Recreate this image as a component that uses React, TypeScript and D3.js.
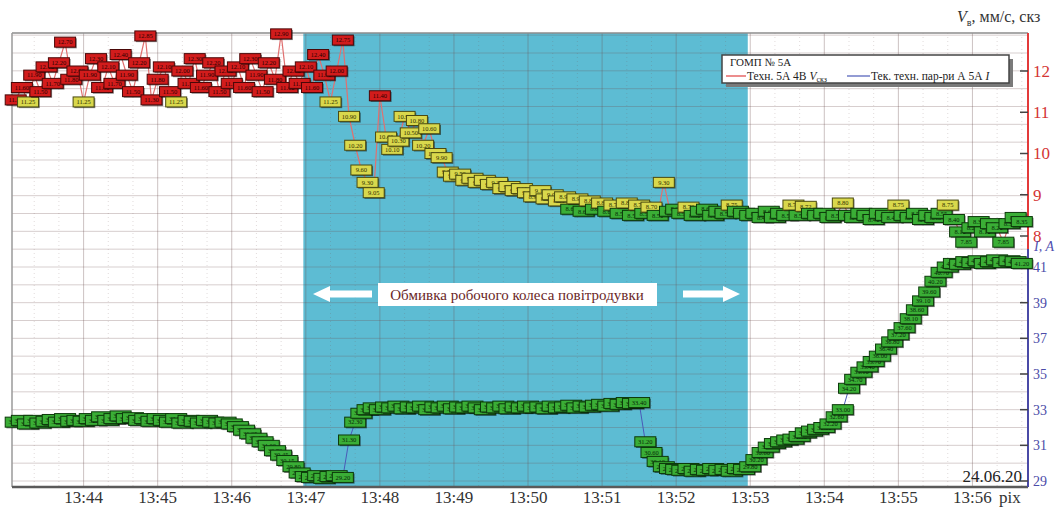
import React, { useEffect, useRef } from "react";
import * as d3 from "d3";

const width = 1055;
const height = 510;

// samples every 5 s starting 13:43:05
const startTime = "13:43:05";
const stepSeconds = 5;

// vibration velocity V, mm/s (rms)
const vibration = [
  11.3, 11.6, 11.25, 11.9, 11.5, 12.1, 11.7, 12.2, 12.7, 11.8, 12.0, // 13:43
  11.25, 11.9, 12.3, 11.6, 12.1, 11.7, 12.4, 11.9, 11.5, 12.2, 12.85, 11.3, // 13:44
  11.8, 12.1, 11.5, 11.25, 12.0, 11.7, 12.3, 11.6, 11.9, 12.2, 11.5, 12.0, // 13:45
  11.7, 12.1, 11.6, 12.3, 11.9, 11.5, 12.2, 11.8, 12.9, 11.6, 12.0, 11.7, // 13:46
  12.1, 11.6, 12.4, 11.9, 11.25, 12.0, 12.75, 10.9, 10.2, 9.6, 9.3, 9.05, // 13:47
  11.4, 10.4, 10.1, 10.3, 10.9, 10.5, 10.8, 10.2, 10.6, 10.0, 9.9, 9.55, // 13:48
  9.45, 9.5, 9.35, 9.4, 9.3, 9.35, 9.25, 9.3, 9.15, 9.2, 9.1, 9.15, // 13:49
  9.05, 8.95, 9.1, 8.9, 9.0, 8.85, 8.95, 8.65, 8.9, 8.6, 8.85, 8.65, // 13:50
  8.8, 8.6, 8.75, 8.55, 8.8, 8.5, 8.75, 8.55, 8.7, 8.5, 9.3, 8.6, // 13:51
  8.65, 8.55, 8.7, 8.5, 8.6, 8.65, 8.5, 8.6, 8.55, 8.75, 8.6, 8.55, // 13:52
  8.5, 8.55, 8.45, 8.6, 8.45, 8.55, 8.5, 8.75, 8.5, 8.72, 8.55, 8.5, // 13:53
  8.55, 8.45, 8.5, 8.8, 8.5, 8.45, 8.55, 8.5, 8.4, 8.55, 8.5, 8.45, // 13:54
  8.75, 8.5, 8.45, 8.55, 8.4, 8.5, 8.45, 8.55, 8.75, 8.4, 8.1, 7.85, // 13:55
  8.2, 8.35, 8.1, 8.3, 8.2, 7.85, 8.3, 8.45, 8.35, // 13:56
];

// motor current I, A
const current = [
  32.3, 32.4, 32.2, 32.4, 32.25, 32.35, 32.45, 32.3, 32.5, 32.35, 32.4, // 13:43
  32.35, 32.5, 32.4, 32.6, 32.4, 32.5, 32.65, 32.5, 32.55, 32.4, 32.5, 32.35, // 13:44
  32.5, 32.4, 32.3, 32.5, 32.25, 32.4, 32.35, 32.25, 32.4, 32.3, 32.25, 32.3, // 13:45
  32.2, 32.05, 31.85, 31.65, 31.4, 31.2, 31.0, 30.7, 30.45, 30.15, 29.8, 29.45, // 13:46
  29.25, 29.2, 29.3, 29.15, 29.25, 29.3, 29.2, 31.3, 32.3, 32.8, 33.0, 33.1, // 13:47
  33.0, 33.15, 33.1, 33.2, 33.05, 33.15, 33.1, 33.2, 33.0, 33.15, 33.1, 33.2, // 13:48
  33.05, 33.15, 33.1, 33.2, 33.1, 33.0, 33.15, 33.1, 33.2, 33.05, 33.15, 33.1, // 13:49
  33.2, 33.1, 33.15, 33.05, 33.2, 33.1, 33.15, 33.25, 33.1, 33.2, 33.15, 33.25, // 13:50
  33.3, 33.2, 33.35, 33.3, 33.4, 33.35, 33.4, 31.2, 30.6, 30.1, 29.8, 29.7, // 13:51
  29.65, 29.6, 29.7, 29.55, 29.65, 29.6, 29.7, 29.6, 29.65, 29.55, 29.7, 29.65, // 13:52
  29.8, 30.2, 30.6, 30.9, 31.1, 31.2, 31.3, 31.35, 31.5, 31.7, 31.8, 31.9, // 13:53
  32.0, 32.2, 32.6, 33.0, 34.2, 34.7, 35.1, 35.4, 35.7, 36.0, 36.4, 36.8, // 13:54
  37.2, 37.6, 38.1, 38.6, 39.1, 39.6, 40.2, 40.7, 41.0, 41.2, 41.15, 41.3, // 13:55
  41.25, 41.35, 41.2, 41.3, 41.4, 41.25, 41.35, 41.3, 41.2, // 13:56
];

const minuteTicks = ["13:44", "13:45", "13:46", "13:47", "13:48", "13:49", "13:50", "13:51", "13:52", "13:53", "13:54", "13:55", "13:56"];
const vibrationTicks = [8, 9, 10, 11, 12];
const currentTicks = [29, 31, 33, 35, 37, 39, 41];
const washStart = "13:46:58";
const washEnd = "13:52:58";

const serif = "'Liberation Serif', 'Times New Roman', serif";

const red = { fill: "#d21c1c", stroke: "#4a0808", text: "#2a0000" };
const yellow = { fill: "#d9d84c", stroke: "#4a4a10", text: "#303000" };
const green = { fill: "#3aae36", stroke: "#0d3a0b", text: "#062a06" };

function vibrationColors(v) {
  if (v >= 11.28) return red;
  if (v >= 8.7) return yellow;
  return green;
}

function App() {
  const chartRef = useRef(null);

  useEffect(() => {
    const root = d3.select(chartRef.current);
    root.selectAll("*").remove();
    const svg = root.append("svg").attr("width", width).attr("height", height).style("display", "block");

    const parse = d3.timeParse("%H:%M:%S");
    const t0 = parse(startTime).getTime();
    const times = vibration.map((_, i) => new Date(t0 + i * stepSeconds * 1000));

    const left = 12, right = 1028, top = 33, bottom = 487;

    const x = d3.scaleTime().domain([parse("13:43:02"), parse("13:56:45")]).range([left, right]);
    const yV = d3.scaleLinear().domain([8, 12]).range([236, 71]);
    const yI = d3.scaleLinear().domain([29, 41]).range([481, 267]);

    svg.append("rect").attr("width", width).attr("height", height).attr("fill", "#fff");

    // washing period band
    svg.append("rect")
      .attr("x", x(parse(washStart)))
      .attr("y", top)
      .attr("width", x(parse(washEnd)) - x(parse(washStart)))
      .attr("height", bottom - top)
      .attr("fill", "#5dbcd3");

    // horizontal grid every 1 A
    const gridVals = d3.range(29, 55).filter((v) => yI(v) >= top);
    svg.append("g").selectAll("line").data(gridVals).enter().append("line")
      .attr("x1", left).attr("x2", right)
      .attr("y1", (d) => yI(d)).attr("y2", (d) => yI(d))
      .attr("stroke", "rgba(110,80,80,0.28)").attr("stroke-width", 1);

    // minor vertical grid (dotted)
    const minor = d3.timeSecond.every(20).range(parse("13:43:20"), parse("13:56:45"))
      .filter((d) => d.getSeconds() !== 0);
    svg.append("g").selectAll("line").data(minor).enter().append("line")
      .attr("x1", (d) => x(d)).attr("x2", (d) => x(d))
      .attr("y1", top).attr("y2", bottom)
      .attr("stroke", "rgba(120,90,90,0.22)").attr("stroke-dasharray", "1,3");

    // major vertical grid
    svg.append("g").selectAll("line").data(minuteTicks).enter().append("line")
      .attr("x1", (d) => x(parse(d + ":00"))).attr("x2", (d) => x(parse(d + ":00")))
      .attr("y1", top).attr("y2", bottom)
      .attr("stroke", "rgba(110,80,80,0.35)").attr("stroke-width", 1);

    // frame
    svg.append("line").attr("x1", left).attr("x2", right).attr("y1", top).attr("y2", top)
      .attr("stroke", "#8c8c8c").attr("stroke-width", 1.5);
    svg.append("line").attr("x1", left).attr("x2", left).attr("y1", top).attr("y2", bottom)
      .attr("stroke", "#9a9a9a").attr("stroke-width", 1.5);
    svg.append("line").attr("x1", left).attr("x2", right).attr("y1", bottom).attr("y2", bottom)
      .attr("stroke", "#5a5a5a").attr("stroke-width", 2.5);

    // right axes
    svg.append("line").attr("x1", right).attr("x2", right).attr("y1", top).attr("y2", 249)
      .attr("stroke", "#e33a3a").attr("stroke-width", 2);
    svg.append("line").attr("x1", right).attr("x2", right).attr("y1", 249).attr("y2", bottom)
      .attr("stroke", "#4a4aa6").attr("stroke-width", 2);

    const vt = svg.append("g").selectAll("g").data(vibrationTicks).enter().append("g");
    vt.append("line").attr("x1", right - 8).attr("x2", right).attr("y1", (d) => yV(d)).attr("y2", (d) => yV(d))
      .attr("stroke", "#444").attr("stroke-width", 1.5);
    vt.append("text").attr("x", right + 5).attr("y", (d) => yV(d)).attr("dy", "0.35em")
      .attr("font-family", serif).attr("font-size", 17).attr("fill", "#d43434").text((d) => d);

    const it = svg.append("g").selectAll("g").data(currentTicks).enter().append("g");
    it.append("line").attr("x1", right - 8).attr("x2", right).attr("y1", (d) => yI(d)).attr("y2", (d) => yI(d))
      .attr("stroke", "#444").attr("stroke-width", 1.5);
    it.append("text").attr("x", right + 5).attr("y", (d) => yI(d)).attr("dy", "0.35em")
      .attr("font-family", serif).attr("font-size", 14).attr("fill", "#4b4ba8").text((d) => d);

    // x tick labels
    svg.append("g").selectAll("text").data(minuteTicks).enter().append("text")
      .attr("x", (d) => x(parse(d + ":00"))).attr("y", 503)
      .attr("text-anchor", "middle").attr("font-family", serif).attr("font-size", 17).attr("fill", "#333")
      .text((d) => d);
    svg.append("text").attr("x", 999).attr("y", 503).attr("font-family", serif).attr("font-size", 17)
      .attr("fill", "#333").text("ріх");

    // series lines
    const lineV = d3.line().x((d, i) => x(times[i])).y((d) => yV(d));
    const lineI = d3.line().x((d, i) => x(times[i])).y((d) => yI(d));
    svg.append("path").attr("d", lineI(current)).attr("fill", "none").attr("stroke", "#4a5ab8").attr("stroke-width", 1);
    svg.append("path").attr("d", lineV(vibration)).attr("fill", "none").attr("stroke", "#e07070").attr("stroke-width", 1.2);

    // data label boxes
    const bw = 21, bh = 10;
    const drawBoxes = (vals, yScale, colorOf) => {
      const g = svg.append("g").selectAll("g").data(vals).enter().append("g")
        .attr("transform", (d, i) => `translate(${x(times[i]) - bw / 2},${yScale(d) - bh / 2})`);
      g.append("rect").attr("x", 1.2).attr("y", 1.2).attr("width", bw).attr("height", bh).attr("fill", "rgba(0,0,0,0.5)");
      g.append("rect").attr("width", bw).attr("height", bh)
        .attr("fill", (d) => colorOf(d).fill).attr("stroke", (d) => colorOf(d).stroke).attr("stroke-width", 1);
      g.append("text").attr("x", bw / 2).attr("y", bh / 2).attr("dy", "0.35em").attr("text-anchor", "middle")
        .attr("font-family", serif).attr("font-size", 6.5).attr("fill", (d) => colorOf(d).text)
        .text((d) => d.toFixed(2));
    };
    drawBoxes(current, yI, () => green);
    drawBoxes(vibration, yV, vibrationColors);

    // annotation: arrows and caption
    const ay = 294;
    svg.append("polygon")
      .attr("points", `313,${ay} 330,${ay - 8} 330,${ay - 3.5} 372,${ay - 3.5} 372,${ay + 3.5} 330,${ay + 3.5} 330,${ay + 8}`)
      .attr("fill", "#fff");
    svg.append("polygon")
      .attr("points", `740,${ay} 723,${ay - 8} 723,${ay - 3.5} 683,${ay - 3.5} 683,${ay + 3.5} 723,${ay + 3.5} 723,${ay + 8}`)
      .attr("fill", "#fff");
    svg.append("rect").attr("x", 378).attr("y", 283).attr("width", 279).attr("height", 23).attr("fill", "#fff");
    svg.append("text").attr("x", 517).attr("y", 299.5).attr("text-anchor", "middle")
      .attr("font-family", serif).attr("font-size", 15).attr("fill", "#6a2626")
      .text("Обмивка робочого колеса повітродувки");

    // legend
    svg.append("rect").attr("x", 726).attr("y", 59).attr("width", 287).attr("height", 28).attr("fill", "#7a7a7a");
    svg.append("rect").attr("x", 722).attr("y", 55).attr("width", 287).attr("height", 28)
      .attr("fill", "#fff").attr("stroke", "#444").attr("stroke-width", 1.5);
    svg.append("text").attr("x", 730).attr("y", 66).attr("font-family", serif).attr("font-size", 11)
      .attr("fill", "#222").text("ГОМП № 5А");
    svg.append("line").attr("x1", 726).attr("x2", 746).attr("y1", 76).attr("y2", 76).attr("stroke", "#e04040").attr("stroke-width", 1.2);
    const l1 = svg.append("text").attr("x", 747).attr("y", 79.5).attr("font-family", serif).attr("font-size", 11.5).attr("fill", "#222");
    l1.append("tspan").text("Техн. 5А 4В ");
    l1.append("tspan").attr("font-style", "italic").text("V");
    l1.append("tspan").attr("font-size", 8).attr("dy", 2).text("скз");
    svg.append("line").attr("x1", 847).attr("x2", 870).attr("y1", 76).attr("y2", 76).attr("stroke", "#4a5ab8").attr("stroke-width", 1.2);
    const l2 = svg.append("text").attr("x", 871).attr("y", 79.5).attr("font-family", serif).attr("font-size", 11.5).attr("fill", "#222");
    l2.append("tspan").text("Тек. техн. пар-ри А 5А ");
    l2.append("tspan").attr("font-style", "italic").text("I");

    // axis titles and date
    const tt = svg.append("text").attr("x", 957).attr("y", 22).attr("font-family", serif).attr("font-size", 16).attr("fill", "#333");
    tt.append("tspan").attr("font-style", "italic").text("V");
    tt.append("tspan").attr("font-size", 10).attr("dy", 4).text("в");
    tt.append("tspan").attr("dy", -4).text(", мм/с, скз");

    svg.append("text").attr("x", 1034).attr("y", 251).attr("font-family", serif).attr("font-size", 14)
      .attr("font-style", "italic").attr("fill", "#5050b0").text("I, A");

    svg.append("text").attr("x", 1022).attr("y", 482).attr("text-anchor", "end").attr("font-family", serif)
      .attr("font-size", 17).attr("fill", "#222").text("24.06.20");
  }, []);

  return <div ref={chartRef} style={{ position: "absolute", left: 0, top: 0 }}></div>;
}

export default App;
